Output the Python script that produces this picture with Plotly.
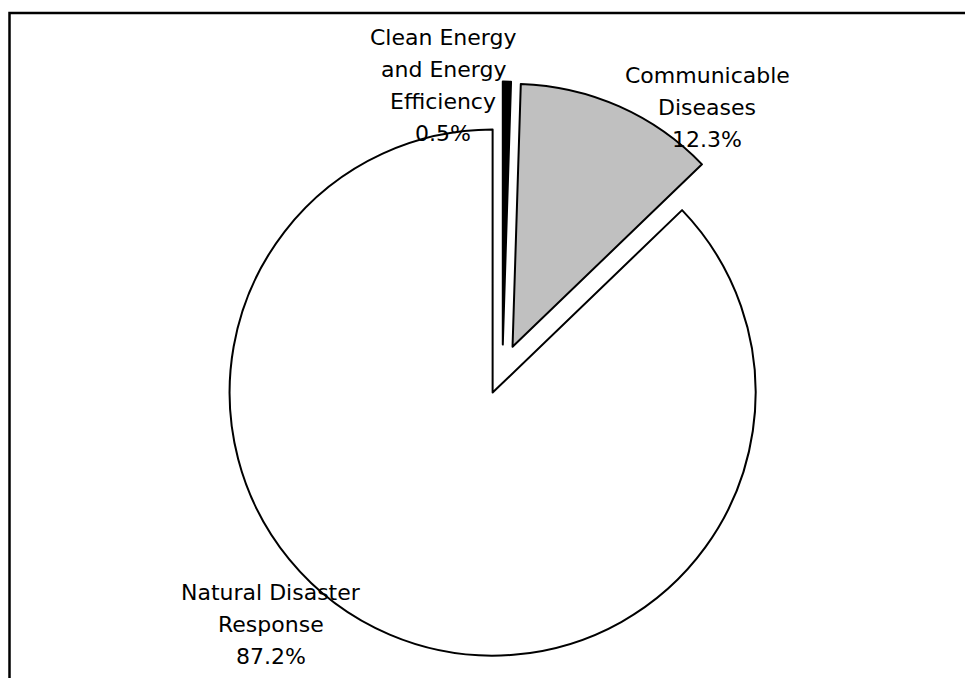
import plotly.graph_objects as go

labels = ["Clean Energy and Energy Efficiency", "Communicable Diseases", "Natural Disaster Response"]
values = [0.5, 12.3, 87.2]
label_lines = [["Clean Energy", "and Energy", "Efficiency"], ["Communicable", "Diseases"], ["Natural Disaster", "Response"]]
colors = ["#000000", "#c0c0c0", "#ffffff"]

W, H = 965, 678
cx, cy, half = 502.4, 369.6, 288.0

fig = go.Figure(go.Pie(
    labels=labels, values=values, sort=False, direction="clockwise", rotation=0,
    pull=[0.095, 0.095, 0.095], textinfo="none", hoverinfo="label+percent",
    marker=dict(colors=colors, line=dict(color="#000000", width=2)),
    domain=dict(x=[(cx - half) / W, (cx + half) / W], y=[1 - (cy + half) / H, 1 - (cy - half) / H]),
    showlegend=False,
))

# label block positions (pixel centres of first line) and line spacing
label_pos = [(443, 37), (707, 75), (271, 592)]
spacing = 32
annotations = []
for lines, v, (lx, ly) in zip(label_lines, values, label_pos):
    all_lines = lines + [f"{v:.1f}%"]
    for i, t in enumerate(all_lines):
        annotations.append(dict(
            text=t, x=lx / W, y=1 - (ly + i * spacing) / H, xref="paper", yref="paper",
            xanchor="center", yanchor="middle", showarrow=False,
            font=dict(family="DejaVu Sans", size=22, color="#000000"),
        ))

fig.update_layout(
    width=W, height=H, margin=dict(l=0, r=0, t=0, b=0),
    paper_bgcolor="#ffffff", plot_bgcolor="#ffffff",
    annotations=annotations,
    shapes=[dict(type="rect", xref="paper", yref="paper", x0=9.5 / W, x1=1.05, y0=-0.05, y1=1 - 13 / H,
                 line=dict(color="#000000", width=2.5), fillcolor="rgba(0,0,0,0)", layer="above")],
)
fig.write_html("out.html")
